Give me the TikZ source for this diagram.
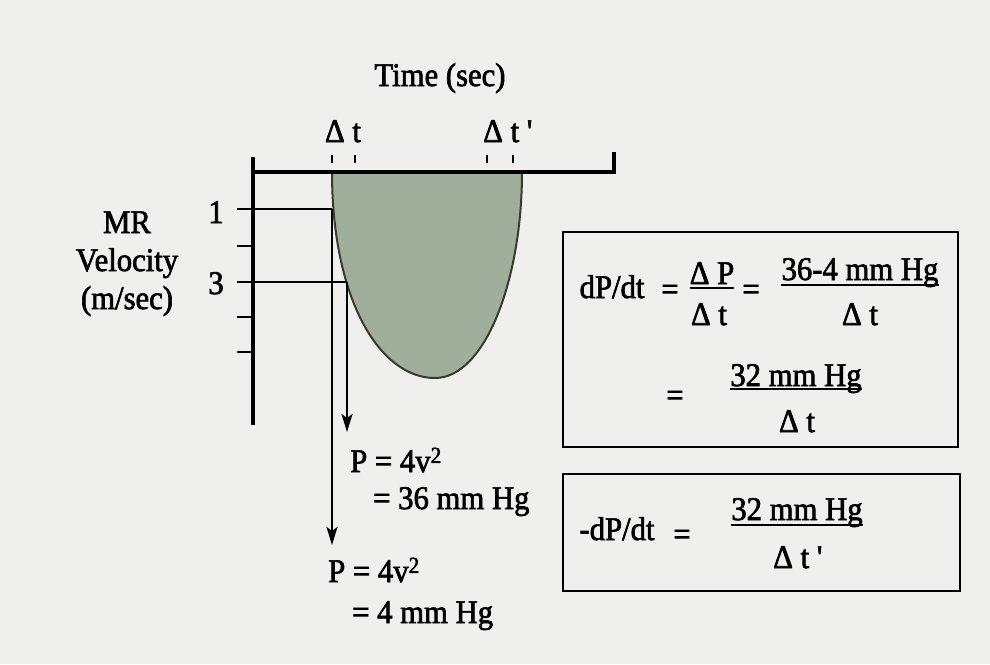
\documentclass[tikz,border=0pt]{standalone}
\usepackage{fontspec}
\setmainfont[FakeStretch=0.93, FakeBold=2]{Liberation Serif}
\usetikzlibrary{arrows.meta}
\definecolor{paper}{RGB}{239,239,237}
\definecolor{jetfill}{RGB}{160,174,156}
\definecolor{jetedge}{RGB}{55,60,40}
\tikzset{
  lbl/.style={font=\fontsize{33}{38}\selectfont, inner sep=0pt, anchor=base},
  axis/.style={line width=3.5pt},
  guide/.style={line width=2.8pt},
  tic/.style={line width=2.2pt},
  drop/.style={line width=2.3pt, -{Stealth[length=18pt,width=11pt,inset=4pt]}},
  panel/.style={line width=2.5pt},
  fracbar/.style={line width=2.2pt},
}
\begin{document}
\begin{tikzpicture}[x=1pt,y=-1pt]
  \fill[paper] (0,0) rectangle (990,664);
  \useasboundingbox (0,0) rectangle (990,664);

  % regurgitant jet
  \filldraw[fill=jetfill, draw=jetedge, line width=2pt]
    (332,172) .. controls (332,300) and (380,378) .. (435,378)
    .. controls (485,378) and (522,280) .. (522,172) -- cycle;

  % axes
  \coordinate (origin) at (253,172);
  \draw[axis] (253,157) -- (253,425);
  \draw[axis] (origin) -- (614,172) -- (614,152);
  \foreach \y in {209,246,282,317,352}
    \draw[guide] (237,\y) -- (253,\y);
  \foreach \x in {332,355,487,513}
    \draw[tic] (\x,155) -- (\x,163);

  % axis labels
  \node[lbl] (time) at (440,86) {Time (sec)};
  \node[lbl] (dt) at (343,142) {Δ t};
  \node[lbl] (dtp) at (508,142) {Δ t \textquotesingle};
  \node[lbl] (mr) at (127,233) {MR};
  \node[lbl] (vel) at (127,271) {Velocity};
  \node[lbl] (ms) at (127,309) {(m/sec)};
  \node[lbl] (one) at (216,223) {1};
  \node[lbl] (three) at (216,294) {3};

  % pressures
  \node[lbl, anchor=base west] (pa) at (350,472) {P = 4v\textsuperscript{2}};
  \node[lbl, anchor=base west] (pa2) at (373,509) {= 36 mm Hg};
  \node[lbl, anchor=base west] (pb) at (328,582) {P = 4v\textsuperscript{2}};
  \node[lbl, anchor=base west] (pb2) at (352,623) {= 4 mm Hg};

  \coordinate (hitone) at (332,209);
  \coordinate (hitthree) at (347,282);
  \coordinate (tipone) at (332,545);
  \coordinate (tipthree) at (347,432);
  \draw[guide] (237,209) -- (hitone);
  \draw[guide] (253,282) -- (hitthree);
  \draw[drop] (hitone) -- (tipone);
  \draw[drop] (hitthree) -- (tipthree);

  % dP/dt box
  \draw[panel] (563,232) rectangle (958,447);
  \node[lbl] (dpdt) at (612,298) {dP/dt};
  \node[lbl] (eqa) at (670,300) {=};
  \node[lbl] (dpn) at (712,284) {Δ P};
  \node[lbl] (dpd) at (709,325) {Δ t};
  \node[lbl] (eqb) at (751,300) {=};
  \node[lbl] (difn) at (860,280) {36-4 mm Hg};
  \node[lbl] (difd) at (860,325) {Δ t};
  \node[lbl] (eqc) at (675,406) {=};
  \node[lbl] (sumn) at (796,386) {32 mm Hg};
  \node[lbl] (sumd) at (797,432) {Δ t};
  \draw[fracbar] ([yshift=-4pt]dpn.base west) -- ([yshift=-4pt]dpn.base east);
  \draw[fracbar] ([yshift=-5pt]difn.base west) -- ([yshift=-5pt]difn.base east);
  \draw[fracbar] ([yshift=-3pt]sumn.base west) -- ([yshift=-3pt]sumn.base east);

  % -dP/dt box
  \draw[panel] (563,474) rectangle (960,591);
  \node[lbl] (ndpdt) at (617,540) {-dP/dt};
  \node[lbl] (eqd) at (682,545) {=};
  \node[lbl] (reln) at (797,520) {32 mm Hg};
  \node[lbl] (reld) at (798,568) {Δ t \textquotesingle};
  \draw[fracbar] ([yshift=-5pt]reln.base west) -- ([yshift=-5pt]reln.base east);
\end{tikzpicture}
\end{document}
